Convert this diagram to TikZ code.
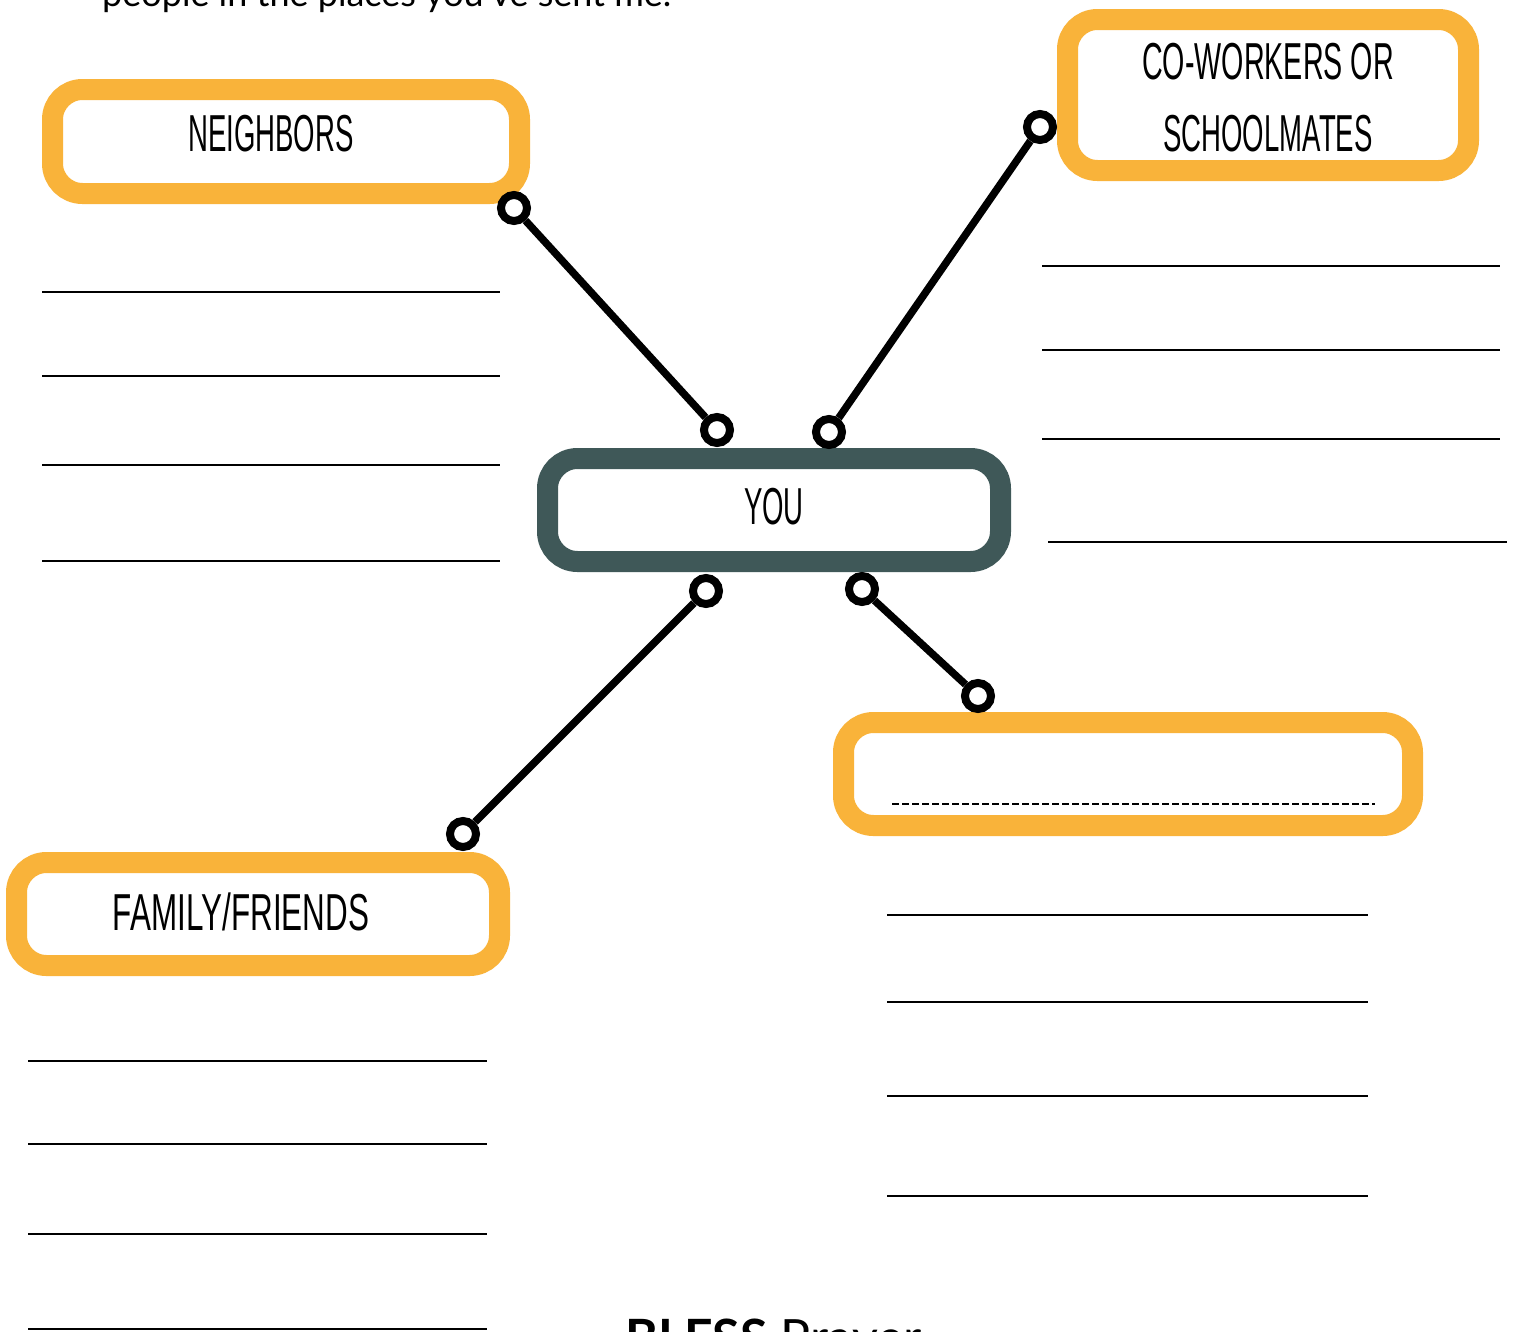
\documentclass[tikz,border=0pt]{standalone}
\usepackage{fontspec}
\setmainfont{Lato}
\newfontfamily\cond[FakeStretch=0.53]{Liberation Sans}
\definecolor{bxorange}{HTML}{F9B33A}
\definecolor{bxslate}{HTML}{3F5858}
\begin{document}
\begin{tikzpicture}[x=1pt,y=-1pt,
  obox/.style={draw=bxorange,line width=21pt,rounded corners=30pt,fill=white,inner sep=0pt,shape=rectangle},
  sbox/.style={obox,draw=bxslate},
  lbl/.style={font=\cond\fontsize{52}{62}\selectfont,inner sep=0pt,anchor=center},
  pin/.style={circle,draw=black,fill=white,line width=8pt,minimum size=26pt,inner sep=0pt},
  conn/.style={line width=7.5pt,draw=black},
  wline/.style={line width=2pt,draw=black},
]
\useasboundingbox (0,0) rectangle (1518,1331);
\clip (0,0) rectangle (1518,1331);
\fill[white] (0,0) rectangle (1518,1331);

% top (cut-off) text
\node[anchor=base west,inner sep=0pt,font=\fontsize{36}{42}\selectfont] (toptext) at (102,6) {people in the places you've sent me.};
% bottom (cut-off) text
\node[anchor=base west,inner sep=0pt,font=\fontsize{50}{58}\selectfont] (bless) at (625,1355) {\textbf{BLESS} Prayer};

% boxes
\node[obox,minimum width=467pt,minimum height=104pt] (neigh) at (286,141.5) {};
\node[obox,minimum width=401pt,minimum height=151pt] (cowork) at (1268,95) {};
\node[sbox,minimum width=453pt,minimum height=103pt] (you) at (774,510) {};
\node[obox,minimum width=569pt,minimum height=103pt] (blank) at (1128,774) {};
\node[obox,minimum width=483pt,minimum height=103pt] (family) at (258,914) {};

% labels
\node[lbl] (neighlbl) at (271,134) {NEIGHBORS};
\node[lbl,xscale=1.04,transform shape] (coworklbl1) at (1268,62) {CO-WORKERS OR};
\node[lbl] (coworklbl2) at (1268,134) {SCHOOLMATES};
\node[lbl] (youlbl) at (774,507) {YOU};
\node[lbl,xscale=1.14,transform shape] (famlbl) at (241,912) {FAMILY/FRIENDS};

% dashed write-in line in blank box
\draw[line width=2pt,dash pattern=on 7pt off 3pt] (892,804) -- (1375,804);

% pins
\node[pin] (p1a) at (514,208) {};
\node[pin] (p1b) at (717,430) {};
\node[pin] (p2a) at (1040,127) {};
\node[pin] (p2b) at (829,432) {};
\node[pin] (p3a) at (706,591) {};
\node[pin] (p3b) at (463,834) {};
\node[pin] (p4a) at (862,589) {};
\node[pin] (p4b) at (978,696) {};

% connectors
\draw[conn] (p1a) -- (p1b);
\draw[conn] (p2a) -- (p2b);
\draw[conn] (p3a) -- (p3b);
\draw[conn] (p4a) -- (p4b);

% writing lines
\foreach \yy in {292,376,465,561} \draw[wline] (42,\yy) -- (500,\yy);
\foreach \yy in {266,350,439} \draw[wline] (1042,\yy) -- (1500,\yy);
\draw[wline] (1048,542) -- (1507,542);
\foreach \yy in {915,1002,1096,1196} \draw[wline] (887,\yy) -- (1368,\yy);
\foreach \yy in {1061,1144,1234,1329} \draw[wline] (28,\yy) -- (487,\yy);
\end{tikzpicture}
\end{document}
